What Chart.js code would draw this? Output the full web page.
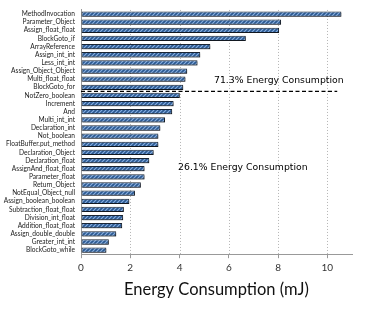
<!DOCTYPE html>
<html><head><meta charset="utf-8">
<script src="https://cdn.jsdelivr.net/npm/chart.js@4/dist/chart.umd.min.js"></script>
<style>html,body{margin:0;padding:0;background:#fff}#wrap{width:366px;height:309px}</style>
</head><body><div id="wrap"><canvas id="c" width="366" height="309"></canvas></div>
<script>
const categories = ["MethodInvocation","Parameter_Object","Assign_float_float","BlockGoto_if","ArrayReference","Assign_int_int","Less_int_int","Assign_Object_Object","Multi_float_float","BlockGoto_for","NotZero_boolean","Increment","And","Multi_int_int","Declaration_int","Not_boolean","FloatBuffer.put_method","Declaration_Object","Declaration_float","AssignAnd_float_float","Parameter_float","Return_Object","NotEqual_Object_null","Assign_boolean_boolean","Subtraction_float_float","Division_int_float","Addition_float_float","Assign_double_double","Greater_int_int","BlockGoto_while"];
const energy = [10.57,8.12,8.04,6.69,5.25,4.84,4.73,4.31,4.24,4.15,4.01,3.76,3.70,3.41,3.22,3.14,3.14,2.95,2.77,2.58,2.58,2.43,2.19,1.96,1.74,1.71,1.67,1.43,1.13,1.03];
const xTicks = [0,2,4,6,8,10];
const annotations = [
  {text:"71.3% Energy Consumption", x:5.4, y:8.2},
  {text:"26.1% Energy Consumption", x:3.94, y:18.9}
];
const dividerEnd = 10.4;

function makePattern(){
  const p = document.createElement('canvas'); p.width=4; p.height=4;
  const g = p.getContext('2d');
  g.fillStyle='#2a5890'; g.fillRect(0,0,4,4);
  g.strokeStyle='#86aee0'; g.lineWidth=1.2;
  g.beginPath(); g.moveTo(0,4); g.lineTo(4,0); g.moveTo(-1,1); g.lineTo(1,-1); g.moveTo(3,5); g.lineTo(5,3); g.stroke();
  return document.getElementById('c').getContext('2d').createPattern(p,'repeat');
}

const shadowPlugin = {
  id:'shadow',
  beforeDatasetsDraw(chart){ const c=chart.ctx; c.save(); c.shadowColor='rgba(0,0,0,0.35)'; c.shadowOffsetX=1.5; c.shadowOffsetY=1.5; c.shadowBlur=1; },
  afterDatasetsDraw(chart){ chart.ctx.restore(); }
};
const gridPlugin = {
  id:'dotgrid',
  beforeDatasetsDraw(chart){
    const c=chart.ctx, xs=chart.scales.x, a=chart.chartArea;
    c.save(); c.strokeStyle='#b5b5b5'; c.lineWidth=1; c.setLineDash([1,2]);
    xTicks.forEach(v=>{ if(v===0) return; const x=Math.round(xs.getPixelForValue(v))+0.5; c.beginPath(); c.moveTo(x,a.top); c.lineTo(x,a.bottom); c.stroke(); });
    c.restore();
  }
};
const annoPlugin = {
  id:'anno',
  afterDraw(chart){
    const c=chart.ctx, xs=chart.scales.x, ys=chart.scales.y;
    c.save();
    const yDiv = (ys.getPixelForValue(9)+ys.getPixelForValue(10))/2;
    c.strokeStyle='#000'; c.lineWidth=1.2; c.setLineDash([4,2.5]);
    c.beginPath(); c.moveTo(xs.getPixelForValue(0), yDiv); c.lineTo(xs.getPixelForValue(dividerEnd), yDiv); c.stroke();
    c.setLineDash([]);
    c.fillStyle='#000'; c.font='9.3px "DejaVu Sans"'; c.textBaseline='middle'; c.textAlign='left';
    annotations.forEach(a=>{ c.fillText(a.text, xs.getPixelForValue(a.x), ys.getPixelForValue(a.y)); });
    c.restore();
  }
};

new Chart(document.getElementById('c'), {
  type:'bar',
  data:{labels:categories, datasets:[{data:energy, backgroundColor:makePattern(), borderColor:'#1b2533', borderWidth:1, borderSkipped:false, barPercentage:0.72, categoryPercentage:0.9}]},
  options:{
    indexAxis:'y', responsive:false, animation:false, devicePixelRatio:1,
    layout:{padding:{top:7,right:14,left:0,bottom:9}},
    plugins:{legend:{display:false}, tooltip:{enabled:false}},
    scales:{
      x:{min:0,max:11,
        afterBuildTicks(s){ s.ticks = xTicks.map(v=>({value:v})); },
        grid:{drawOnChartArea:false, drawTicks:true, tickLength:4, tickColor:'#999'},
        border:{color:'#999', width:1},
        ticks:{color:'#333', font:{family:'Lato', size:10}, padding:4},
        title:{display:true, text:'Energy Consumption (mJ)', color:'#111', font:{family:'Lato', size:16.5}, padding:{top:2,bottom:0}}
      },
      y:{
        afterFit(s){ s.width = 81; },
        grid:{display:false, drawTicks:false},
        border:{color:'#999', width:1},
        ticks:{color:'#222', font:{family:'Lato', size:6.6}, padding:6, autoSkip:false}
      }
    }
  },
  plugins:[gridPlugin, shadowPlugin, annoPlugin]
});
</script></body></html>
